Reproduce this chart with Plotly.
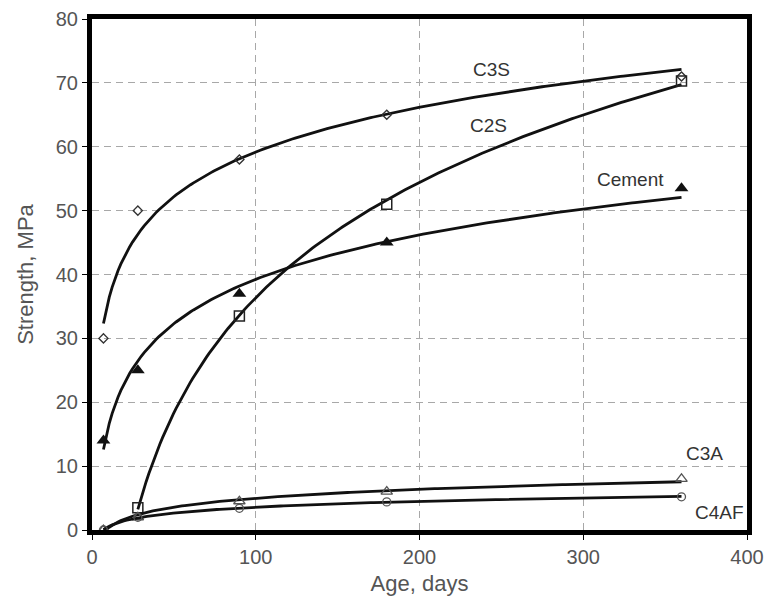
import numpy as np
import plotly.graph_objects as go

# Compressive strength of cement compounds vs. age
age_c3s = [7, 28, 90, 180, 360]
str_c3s = [30, 50, 58, 65, 71]

age_c2s = [28, 90, 180, 360]
str_c2s = [3.5, 33.5, 51, 70.3]

age_cem = [7, 28, 90, 180, 360]
str_cem = [14, 25, 37, 45, 53.5]

age_c3a = [7, 28, 90, 180, 360]
str_c3a = [0, 2, 4.5, 6, 8]

age_c4af = [7, 28, 90, 180, 360]
str_c4af = [0, 2, 3.4, 4.4, 5.2]

labels = ["C3S", "C2S", "Cement", "C3A", "C4AF"]
label_pos = [(244, 72.1), (242, 63.3), (329, 54.8), (374, 12.0), (383, 2.8)]

FONT = "Liberation Sans, Arial"

series = [
    (age_c3s, str_c3s, dict(symbol="diamond-open", size=7, color="#333", line=dict(width=1.4))),
    (age_c2s, str_c2s, dict(symbol="square-open", size=10, color="#222", line=dict(width=1.5))),
    (age_cem, str_cem, dict(symbol="triangle-up", size=12, color="#111", line=dict(width=0))),
    (age_c3a, str_c3a, dict(symbol="triangle-up-open", size=10, color="#555", line=dict(width=1.3))),
    (age_c4af, str_c4af, dict(symbol="circle-open", size=8, color="#555", line=dict(width=1.3))),
]

fig = go.Figure()

for (ages, vals, mk) in series:
    a = np.array(ages, dtype=float)
    v = np.array(vals, dtype=float)
    # logarithmic trendline fitted to the measured points
    b, c = np.polyfit(np.log(a), v, 1)
    xs = np.linspace(a.min(), a.max(), 200)
    ys = np.clip(c + b * np.log(xs), 0, None)
    fig.add_trace(go.Scatter(x=xs, y=ys, mode="lines",
                             line=dict(color="#111", width=2.8),
                             hoverinfo="skip", showlegend=False))
    fig.add_trace(go.Scatter(x=ages, y=vals, mode="markers",
                             marker=mk, showlegend=False))

for name, (lx, ly) in zip(labels, label_pos):
    fig.add_annotation(x=lx, y=ly, text=name, showarrow=False,
                       font=dict(family=FONT, size=19, color="#333"))

axis_common = dict(
    showline=True, linecolor="black", linewidth=5, mirror=True,
    showgrid=True, gridcolor="#a8a8a8", griddash="7px,5px", gridwidth=1,
    ticks="outside", ticklen=5, tickcolor="black", tickwidth=1,
    tickfont=dict(family=FONT, size=20, color="#555"),
    zeroline=False, automargin=False,
)

fig.update_xaxes(range=[0, 400], dtick=100, **axis_common,
                 title=dict(text="Age, days", standoff=10,
                            font=dict(family=FONT, size=22, color="#555")))
fig.update_yaxes(range=[0, 80], dtick=10, **axis_common,
                 title=dict(text="Strength, MPa", standoff=18,
                            font=dict(family=FONT, size=22, color="#555")))

fig.update_layout(
    width=767, height=603,
    margin=dict(l=92, r=20, t=19, b=73),
    plot_bgcolor="white", paper_bgcolor="white",
)

fig.write_html("out.html")
